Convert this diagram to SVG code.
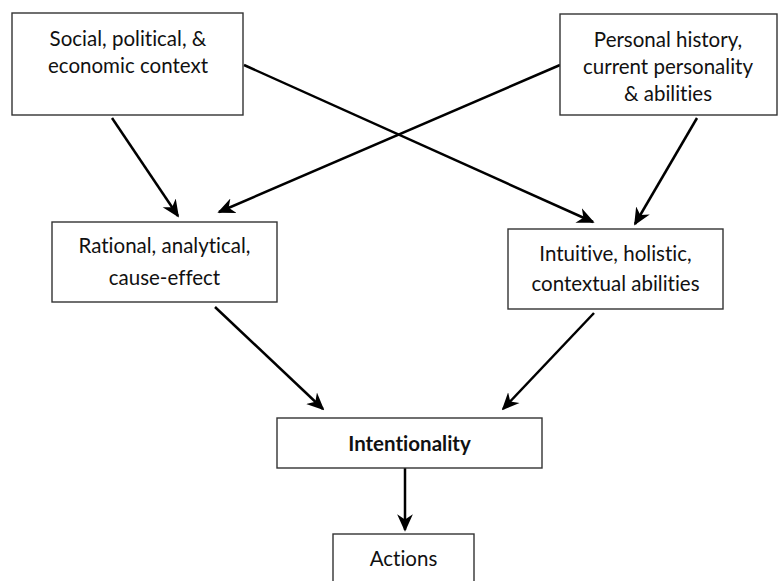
<svg xmlns="http://www.w3.org/2000/svg" width="781" height="581" viewBox="0 0 781 581">
  <style>
    .box { fill: #fff; stroke: #333; stroke-width: 1.4; }
    .lbl { font-family: Lato, "Open Sans", "Liberation Sans", sans-serif; font-size: 20.5px; fill: #111; text-anchor: middle; font-variant-ligatures: none; font-feature-settings: "liga" 0; }
    .bold { font-weight: bold; }
    .edge { stroke: #000; stroke-width: 2.5; fill: none; marker-end: url(#head); }
  </style>
  <defs>
    <marker id="head" viewBox="0 0 10 10" refX="9" refY="5" markerWidth="7" markerHeight="7" markerUnits="strokeWidth" orient="auto">
      <path d="M0,0.5 L10,5 L0,9.5 L3,5 Z" fill="#000"/>
    </marker>
  </defs>
  <rect width="781" height="581" fill="#fff"/>

  <g id="connectors">
    <line class="edge" x1="112" y1="118" x2="178" y2="216"/>
    <line class="edge" x1="560" y1="65" x2="219" y2="212"/>
    <line class="edge" x1="244" y1="65" x2="593" y2="222"/>
    <line class="edge" x1="697" y1="118" x2="635" y2="224"/>
    <line class="edge" x1="215" y1="307" x2="323" y2="409"/>
    <line class="edge" x1="594" y1="313" x2="503" y2="409"/>
    <line class="edge" x1="405" y1="468" x2="405" y2="530"/>
  </g>

  <g id="social-context">
    <rect class="box" x="12" y="13" width="231" height="102"/>
    <text class="lbl" x="128" y="46">Social, political, &amp;</text>
    <text class="lbl" x="128" y="73">economic context</text>
  </g>

  <g id="personal-history">
    <rect class="box" x="560" y="14" width="217" height="101"/>
    <text class="lbl" x="668" y="47">Personal history,</text>
    <text class="lbl" x="668" y="74">current personality</text>
    <text class="lbl" x="668" y="101">&amp; abilities</text>
  </g>

  <g id="rational">
    <rect class="box" x="52" y="222" width="225" height="80"/>
    <text class="lbl" x="164.5" y="253">Rational, analytical,</text>
    <text class="lbl" x="164.5" y="285">cause-effect</text>
  </g>

  <g id="intuitive">
    <rect class="box" x="508" y="229" width="215" height="80"/>
    <text class="lbl" x="615.5" y="261">Intuitive, holistic,</text>
    <text class="lbl" x="615.5" y="291">contextual abilities</text>
  </g>

  <g id="intentionality">
    <rect class="box" x="277" y="418" width="265" height="50"/>
    <text class="lbl bold" x="409.5" y="451">Intentionality</text>
  </g>

  <g id="actions">
    <rect class="box" x="333" y="534" width="141" height="60"/>
    <text class="lbl" x="403.5" y="566">Actions</text>
  </g>
</svg>
